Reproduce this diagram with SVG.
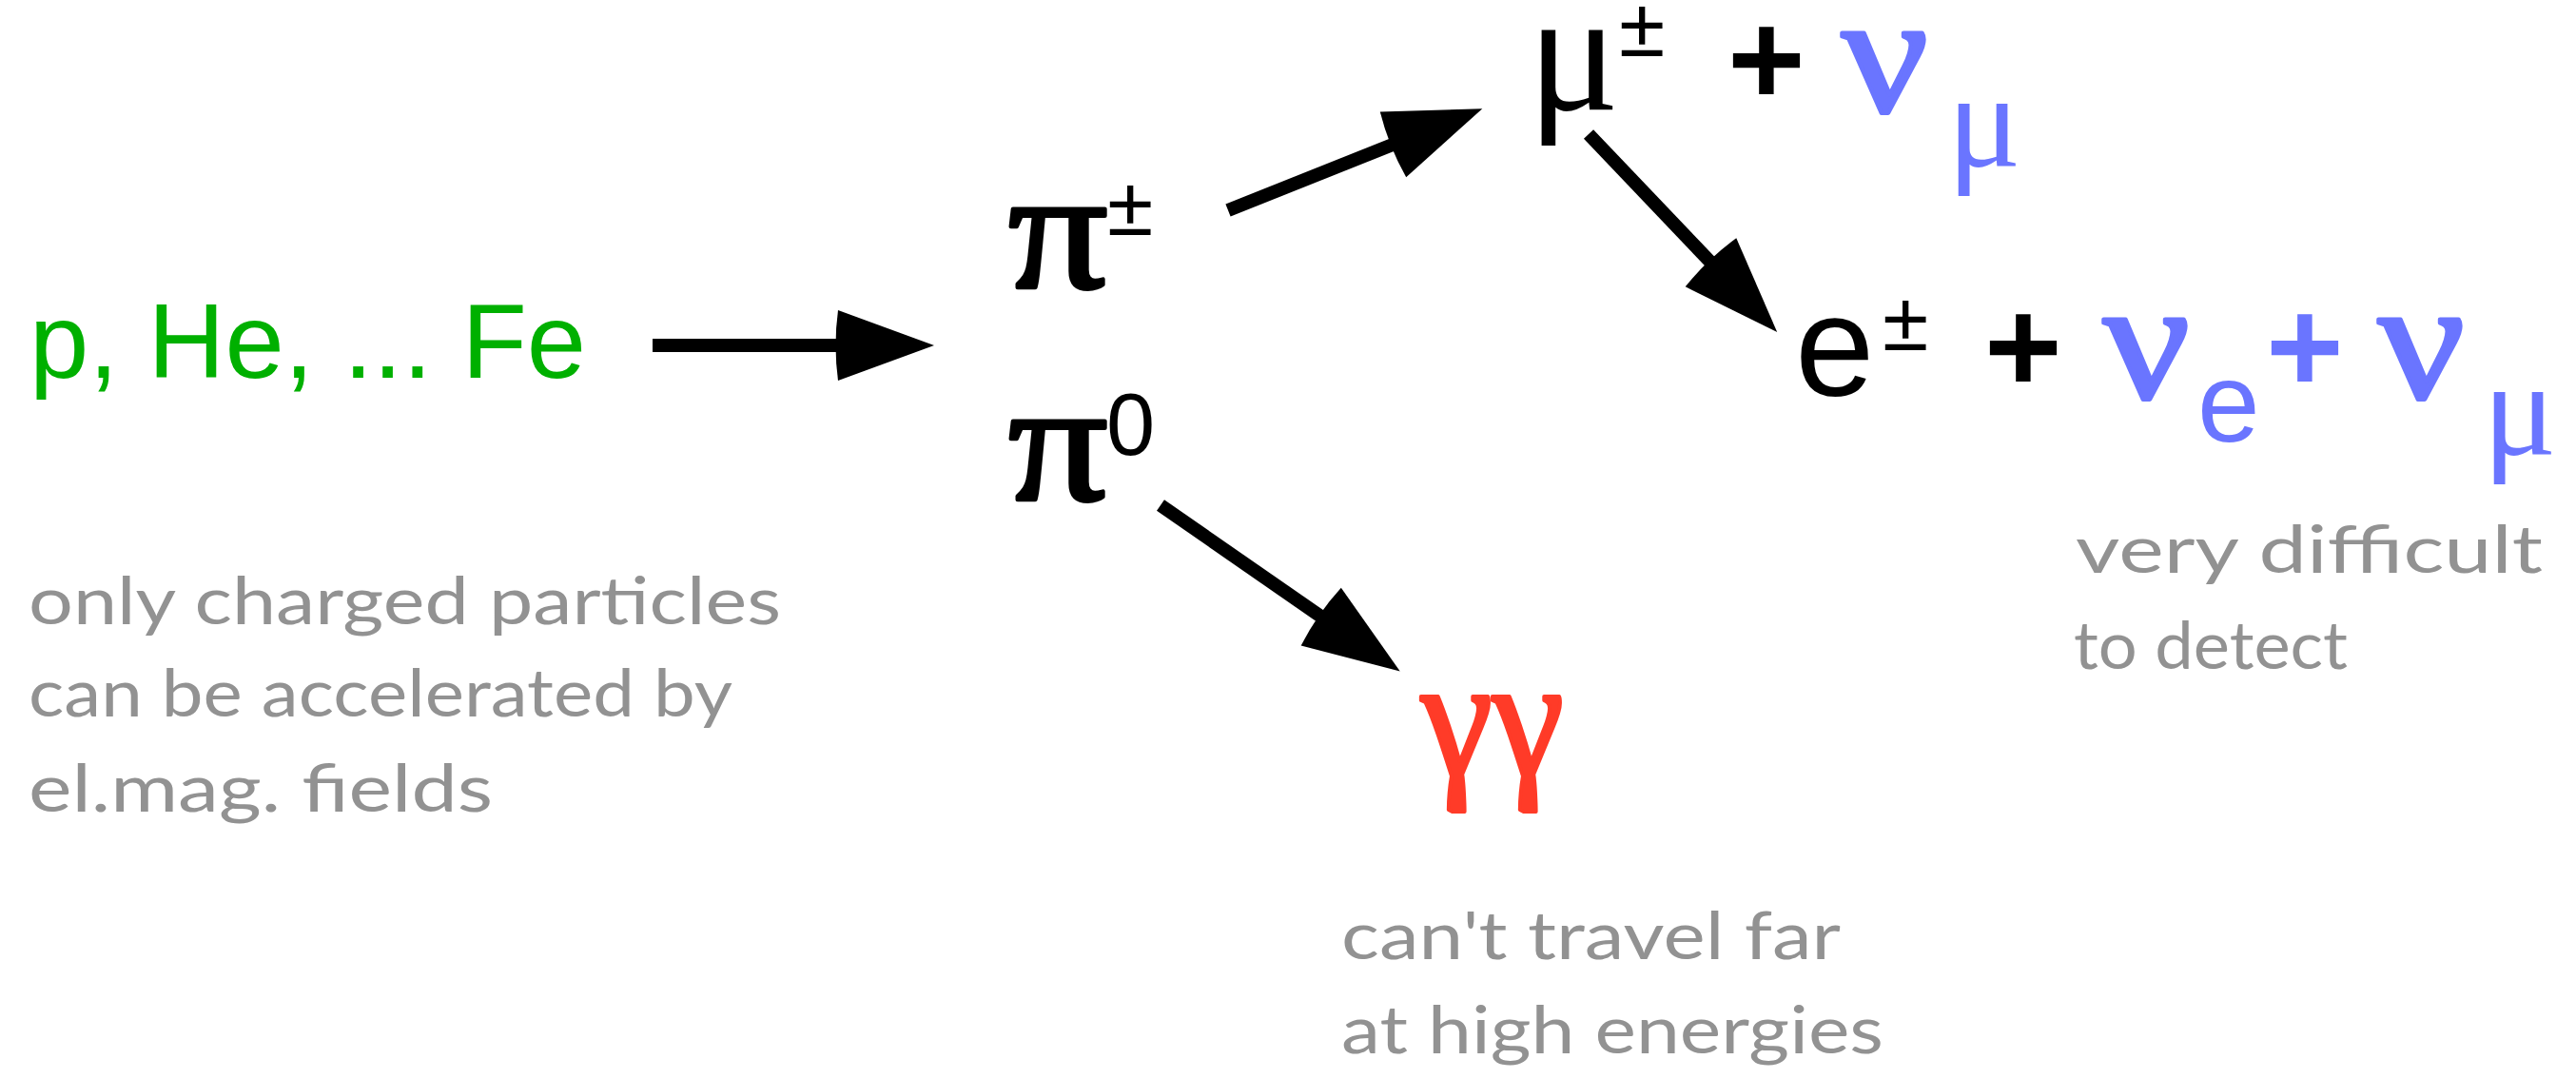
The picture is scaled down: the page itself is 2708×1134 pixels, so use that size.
<svg xmlns="http://www.w3.org/2000/svg" width="2708" height="1134" viewBox="0 0 2708 1134">
<style>
.sans{font-family:"Liberation Sans",Arial,sans-serif}
.greek{font-family:"Liberation Serif","Times New Roman",serif}
.bold{font-weight:bold}
.blk{fill:#000}
.blue{fill:#6A75FF}
.green{fill:#00B000}
.red{fill:#FF3B28}
.hb{stroke-width:4;stroke-linejoin:round}
.hb.blk{stroke:#000}
.hb.blue{stroke:#6A75FF}
.hb.red{stroke:#FF3B28}
.note{font-family:Lato,"Open Sans",sans-serif;font-size:70px;fill:#929292}
.conn{stroke:#000;stroke-width:14;fill:none;marker-end:url(#head)}
</style>
<defs>
<marker id="head" viewBox="0 0 104 74" refX="24" refY="37" markerWidth="104" markerHeight="74" markerUnits="userSpaceOnUse" orient="auto" overflow="visible">
<path d="M3,0 L104,37 L3,74 Q-2,37 3,0 Z" fill="#000"/>
</marker>
</defs>
<rect width="2708" height="1134" fill="#fff"/>
<g id="connectors">
<line class="conn" x1="686" y1="363" x2="902" y2="363"/>
<line class="conn" x1="1291" y1="221" x2="1484" y2="144"/>
<line class="conn" x1="1670" y1="141" x2="1813" y2="291"/>
<line class="conn" x1="1220" y1="531" x2="1406" y2="660"/>
</g>
<g id="n-nuclei">
<text class="sans green" x="31" y="397" font-size="112">p, He, ... Fe</text>
</g>
<g id="n-pi-charged">
<text class="greek hb blk" font-size="180" transform="translate(1060,302) scale(1.15,1)">π</text>
<text class="sans blk" x="1164" y="247" font-size="88">±</text>
</g>
<g id="n-pi-zero">
<text class="greek hb blk" font-size="180" transform="translate(1060,525) scale(1.15,1)">π</text>
<text class="sans blk" x="1163" y="478" font-size="92">0</text>
</g>
<g id="n-muon">
<text class="greek blk" x="1606" y="115" font-size="180">μ</text>
<text class="sans blk" x="1702" y="59" font-size="88">±</text>
<text class="sans bold blk" x="1816" y="110" font-size="140">+</text>
<text class="greek hb blue" font-size="180" transform="translate(1936,117) scale(1.12,1)">ν</text>
<text class="greek blue" x="2047" y="175" font-size="145">μ</text>
</g>
<g id="n-electron">
<text class="sans blk" x="1887" y="416" font-size="150">e</text>
<text class="sans blk" x="1979" y="368" font-size="88">±</text>
<text class="sans bold blk" x="2086" y="412" font-size="140">+</text>
<text class="greek hb blue" font-size="180" transform="translate(2211,418) scale(1.12,1)">ν</text>
<text class="sans blue" x="2310" y="464" font-size="118">e</text>
<text class="sans bold blue" x="2382" y="412" font-size="140">+</text>
<text class="greek hb blue" font-size="180" transform="translate(2500,418) scale(1.12,1)">ν</text>
<text class="greek blue" x="2610" y="478" font-size="145">μ</text>
</g>
<g id="n-gamma">
<text class="greek hb red" x="1494" y="815" font-size="180" textLength="150" lengthAdjust="spacingAndGlyphs">γγ</text>
</g>
<g id="note-charged">
<text class="note" x="30" y="656" textLength="791" lengthAdjust="spacingAndGlyphs">only charged particles</text>
<text class="note" x="30" y="753" textLength="740" lengthAdjust="spacingAndGlyphs">can be accelerated by</text>
<text class="note" x="30" y="853" textLength="488" lengthAdjust="spacingAndGlyphs">el.mag. fields</text>
</g>
<g id="note-gamma">
<text class="note" x="1410" y="1008" textLength="525" lengthAdjust="spacingAndGlyphs">can't travel far</text>
<text class="note" x="1410" y="1107" textLength="570" lengthAdjust="spacingAndGlyphs">at high energies</text>
</g>
<g id="note-neutrino">
<text class="note" x="2182" y="602" textLength="491" lengthAdjust="spacingAndGlyphs">very difficult</text>
<text class="note" x="2180" y="703" textLength="288" lengthAdjust="spacingAndGlyphs">to detect</text>
</g>
</svg>
